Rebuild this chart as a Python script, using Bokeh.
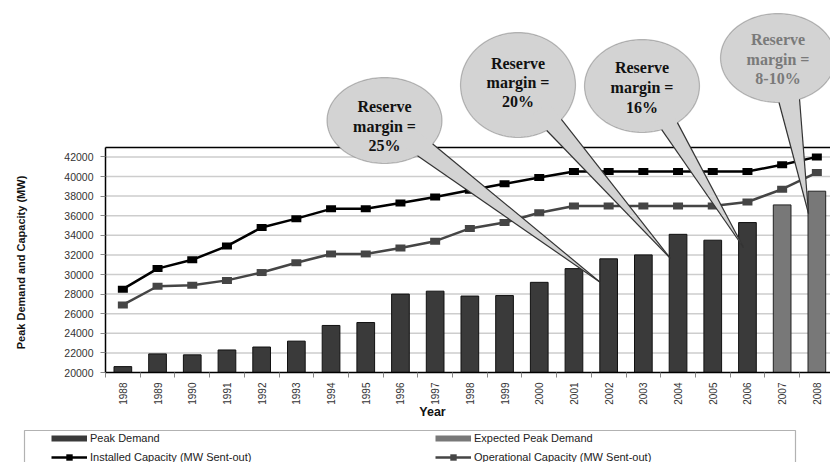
import math
from bokeh.plotting import figure
from bokeh.models import (FixedTicker, Legend, LegendItem, PolyAnnotation, Label,
                          Arrow, LinearAxis)
from bokeh.embed import file_html
from bokeh.resources import INLINE

# ---------------- data ----------------
years = list(range(1988, 2009))
peak_years = list(range(1988, 2007))
peak_demand = [20600, 21900, 21800, 22300, 22600, 23200, 24800, 25100, 28000, 28300,
               27800, 27850, 29200, 30600, 31600, 32000, 34100, 33500, 35300]
expected_years = [2007, 2008]
expected_peak = [37100, 38500]
installed = [28500, 30600, 31500, 32900, 34800, 35700, 36700, 36700, 37300, 37900,
             38600, 39250, 39900, 40500, 40500, 40500, 40500, 40500, 40500, 41200, 42000]
operational = [26900, 28800, 28900, 29400, 30200, 31200, 32100, 32100, 32700, 33400,
               34700, 35300, 36300, 37000, 37000, 37000, 37000, 37000, 37400, 38700, 40400]
y_ticks = list(range(20000, 42001, 2000))
callout_texts = [["Reserve", "margin =", "25%"],
                 ["Reserve", "margin =", "20%"],
                 ["Reserve", "margin =", "16%"],
                 ["Reserve", "margin =", "8-10%"]]
legend_labels = ["Peak Demand", "Expected Peak Demand",
                 "Installed Capacity (MW Sent-out)", "Operational Capacity (MW Sent-out)"]

# ---------------- layout (pixel <-> data) ----------------
W, H = 830, 462
FL, FR, FT, FB = 105, 830, 147, 372          # chart box edges in px
XS = 34.7                                    # px per year
YS = 0.0098                                  # px per MW
X0 = 1987.5


def X(px):
    return X0 + (px - FL) / XS


def Y(py):
    return 20000 + (FB - py) / YS


p = figure(width=W, height=H, x_range=(X(0), X(W)), y_range=(Y(H), Y(0)),
           output_backend="svg", toolbar_location=None,
           x_axis_location=None, y_axis_location=None,
           min_border=0, min_border_left=0, min_border_right=0,
           min_border_top=0, min_border_bottom=0)
p.outline_line_color = None
p.background_fill_color = "white"
p.border_fill_color = "white"
p.grid.visible = False

# horizontal grid lines (at the tick values)
p.segment(x0=X0, x1=X(FR), y0=y_ticks[1:], y1=y_ticks[1:], line_color="#cdcdcd", line_width=1.5)
# top border of the chart box
p.segment(x0=[X0], x1=[X(FR)], y0=[Y(FT)], y1=[Y(FT)], line_color="black", line_width=1.5)

# y axis
yaxis = LinearAxis(fixed_location=X0, bounds=(20000, Y(FT)), ticker=FixedTicker(ticks=y_ticks))
yaxis.axis_line_color = "black"
yaxis.axis_line_width = 1.5
yaxis.major_tick_out = 5
yaxis.major_tick_in = 0
yaxis.major_tick_line_color = "#888888"
yaxis.minor_tick_line_color = None
yaxis.major_label_standoff = 7
yaxis.major_label_text_font = "Liberation Sans"
yaxis.major_label_text_font_size = "10.5px"
yaxis.major_label_text_color = "#333333"
p.add_layout(yaxis, "left")

# x axis
xaxis = LinearAxis(fixed_location=20000, bounds=(X0, X(FR)),
                   ticker=FixedTicker(ticks=years, minor_ticks=[y - 0.5 for y in years]))
xaxis.axis_line_color = "black"
xaxis.axis_line_width = 1.5
xaxis.major_tick_line_color = None
xaxis.major_tick_out = 0
xaxis.major_tick_in = 0
xaxis.minor_tick_out = 5
xaxis.minor_tick_in = 0
xaxis.minor_tick_line_color = "#888888"
xaxis.major_label_orientation = math.pi / 2
xaxis.major_label_standoff = 5
xaxis.major_label_text_font = "Liberation Sans"
xaxis.major_label_text_font_size = "10px"
xaxis.major_label_text_color = "#333333"
p.add_layout(xaxis, "below")

# ---------------- marks ----------------
DARK = "#3a3a3a"
LIGHT = "#787878"
OPC = "#454545"
p.vbar(x=peak_years, top=peak_demand, bottom=20000, width=0.51,
       fill_color=DARK, line_color="#111111", line_width=1)
p.vbar(x=expected_years, top=expected_peak, bottom=20000, width=0.51,
       fill_color=LIGHT, line_color="#222222", line_width=1)

p.line(years, operational, line_color=OPC, line_width=2.5)
p.rect(years, operational, width=10, height=7, width_units="screen", height_units="screen",
       fill_color=OPC, line_color=None)
p.line(years, installed, line_color="black", line_width=2.5)
p.rect(years, installed, width=10, height=7, width_units="screen", height_units="screen",
       fill_color="black", line_color=None)

# legend proxies (kept off the visible canvas; only their legend swatches show)
off_x = [X(-60), X(-50)]
off_y = [Y(-60), Y(-60)]
r_pd = p.line(off_x, off_y, line_color=DARK, line_width=6)
r_ep = p.line(off_x, off_y, line_color=LIGHT, line_width=6)
r_il = p.line(off_x, off_y, line_color="black", line_width=2.5)
r_im = p.scatter(off_x, off_y, marker="square", size=8, fill_color="black", line_color=None)
r_ol = p.line(off_x, off_y, line_color=OPC, line_width=2.5)
r_om = p.scatter(off_x, off_y, marker="square", size=8, fill_color=OPC, line_color=None)

legend = Legend(items=[LegendItem(label=legend_labels[0], renderers=[r_pd], index=0),
                       LegendItem(label=legend_labels[1], renderers=[r_ep], index=0),
                       LegendItem(label=legend_labels[2], renderers=[r_il, r_im], index=0),
                       LegendItem(label=legend_labels[3], renderers=[r_ol, r_om], index=0)],
                orientation="horizontal", ncols=2,
                location=(51, H - 465),
                glyph_width=36, glyph_height=16, label_height=16, label_standoff=3,
                label_width=342, spacing=3, padding=0, margin=0,
                border_line_color=None, background_fill_alpha=0,
                label_text_font="Liberation Sans", label_text_font_size="11px",
                label_text_color="#222222")
p.add_layout(legend, "center")

# legend box
p.add_layout(PolyAnnotation(xs=[X(24), X(795), X(795), X(24)],
                            ys=[Y(430), Y(430), Y(475), Y(475)],
                            fill_alpha=0, line_color="black", line_width=1.2))

# axis titles
p.add_layout(Label(x=X(20), y=Y(262), text="Peak Demand and Capacity (MW)", angle=math.pi / 2,
                   text_align="center", text_baseline="middle",
                   text_font="Liberation Sans", text_font_style="bold",
                   text_font_size="11px", text_color="#111111"))
p.add_layout(Label(x=X(432), y=Y(411), text="Year",
                   text_align="center", text_baseline="middle",
                   text_font="Liberation Sans", text_font_style="bold",
                   text_font_size="12.5px", text_color="#111111"))

# ---------------- callouts ----------------
# (center px, half axes, tail base angles, tip px, text line y px, text color)
callouts = [
    ((384, 120), (57.5, 43), (55, 33), (600, 282), (106, 125.5, 145), "#111111"),
    ((517.5, 84.5), (57.5, 52.5), (60, 41), (670, 258), (63, 82, 101), "#111111"),
    ((641.5, 85.5), (57.5, 46.5), (70, 52), (743, 247), (67, 87, 107), "#111111"),
    ((777.5, 57.5), (57.5, 44.5), (89, 68), (808, 213), (39, 58.5, 78), "#7a7a7a"),
]
FILL = "#d3d3d3"
EDGE = "#333333"
for (cx, cy), (a, b), (t1, t2), (tx, ty), lines_y, tcol in callouts:
    n = 120
    exs = [X(cx + a * math.cos(2 * math.pi * i / n)) for i in range(n)]
    eys = [Y(cy + b * math.sin(2 * math.pi * i / n)) for i in range(n)]
    p.add_layout(PolyAnnotation(xs=exs, ys=eys, fill_color=FILL, fill_alpha=1,
                                line_color=EDGE, line_width=1.2))
    b1 = (cx + a * math.cos(math.radians(t1)), cy + b * math.sin(math.radians(t1)))
    b2 = (cx + a * math.cos(math.radians(t2)), cy + b * math.sin(math.radians(t2)))
    k = 1.12
    e1 = (tx + (b1[0] - tx) * k, ty + (b1[1] - ty) * k)
    e2 = (tx + (b2[0] - tx) * k, ty + (b2[1] - ty) * k)
    p.add_layout(PolyAnnotation(xs=[X(e1[0]), X(e2[0]), X(tx)], ys=[Y(e1[1]), Y(e2[1]), Y(ty)],
                                fill_color=FILL, fill_alpha=1, line_color=None))
    for bb in (b1, b2):
        p.add_layout(Arrow(start=None, end=None, x_start=X(bb[0]), y_start=Y(bb[1]),
                           x_end=X(tx), y_end=Y(ty), line_color=EDGE, line_width=1.2))

for ((cx, cy), _, _, _, lines_y, tcol), texts in zip(callouts, callout_texts):
    for txt, ly in zip(texts, lines_y):
        p.add_layout(Label(x=X(cx), y=Y(ly), text=txt, text_align="center",
                           text_baseline="middle", text_font="Liberation Serif",
                           text_font_style="bold", text_font_size="16px", text_color=tcol))

open("out.html", "w").write(file_html(p, INLINE))
